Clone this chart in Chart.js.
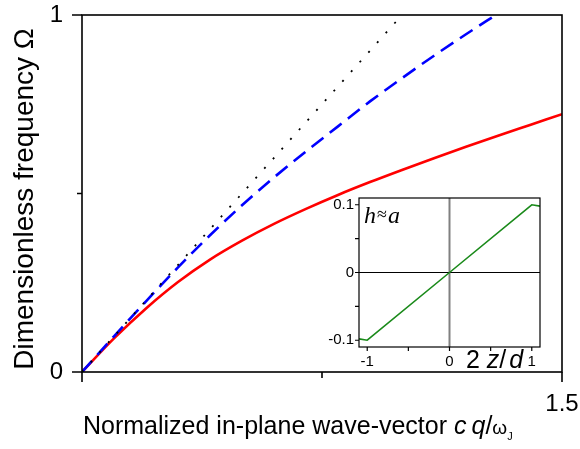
<!DOCTYPE html>
<html>
<head>
<meta charset="utf-8">
<script src="https://cdn.jsdelivr.net/npm/chart.js@4.4.1/dist/chart.umd.min.js"></script>
<style>
  html, body { margin: 0; padding: 0; background: #fff; }
  #wrap { position: relative; width: 580px; height: 449px; overflow: hidden; }
  #main { position: absolute; left: 0; top: 0; }
  #inset { position: absolute; left: 320px; top: 188px; }
</style>
</head>
<body>
<div id="wrap">
  <canvas id="main" width="580" height="449"></canvas>
  <canvas id="inset" width="240" height="192"></canvas>
</div>
<script>
// Normalized in-plane wave-vector cq/ωJ and dimensionless frequency Ω
const qSolid     = [0, 0.1, 0.2, 0.3, 0.4, 0.5, 0.6, 0.7, 0.8, 0.9, 1.0, 1.1, 1.2, 1.3, 1.4, 1.5];
const omegaSolid = [0, 0.094, 0.178, 0.252, 0.315, 0.368, 0.415, 0.457, 0.496, 0.532, 0.566, 0.599, 0.631, 0.662, 0.692, 0.722];

const qDashed     = [0, 0.1, 0.2, 0.3, 0.4, 0.5, 0.6, 0.7, 0.8, 0.9, 1.0, 1.1, 1.2, 1.3];
const omegaDashed = [0, 0.1, 0.198, 0.293, 0.383, 0.467, 0.545, 0.618, 0.688, 0.758, 0.823, 0.886, 0.946, 1.004];

const qLight     = [0, 1];
const omegaLight = [0, 1];

const xTicks      = [0, 0.75, 1.5];
const xTickLabels = ['', '', '1.5'];
const yTicks      = [0, 0.5, 1];
const yTickLabels = ['0', '', '1'];

// Inset: profile h across the layer, 2z/d
const zInset = [-1.1, -1, 0, 1, 1.1];
const hInset = [-0.098, -0.1, 0, 0.1, 0.098];
const zTicks      = [-1, -0.5, 0, 0.5, 1];
const zTickLabels = ['-1', '', '0', '', '1'];
const hTicks      = [-0.1, -0.05, 0, 0.05, 0.1];
const hTickLabels = ['-0.1', '', '0', '', '0.1'];

const SANS = "'Liberation Sans', Arial, Helvetica, sans-serif";
const SERIF = "'Liberation Serif', 'Times New Roman', serif";
Chart.defaults.font.family = SANS;
Chart.defaults.color = '#000';

const pts = (xs, ys) => xs.map((x, i) => ({ x: x, y: ys[i] }));

// Fixed axis thickness, and no extra room for overhanging labels
function fixSize(prop, size) {
  return s => {
    s[prop] = size;
    s.paddingTop = 0; s.paddingBottom = 0; s.paddingLeft = 0; s.paddingRight = 0;
  };
}

// Draws a run of text pieces with individual fonts and baseline offsets
function drawRuns(ctx, x, y, runs) {
  let cx = x;
  for (const r of runs) {
    ctx.font = r.font;
    ctx.fillText(r.text, cx, y + (r.dy || 0));
    cx += ctx.measureText(r.text).width + (r.gap || 0);
  }
}

// Frame, tick marks and axis titles of the main plot
const mainDecor = {
  id: 'mainDecor',
  afterDraw(chart) {
    const { ctx, chartArea: a, scales: { x, y } } = chart;
    ctx.save();
    ctx.strokeStyle = '#000';
    ctx.lineWidth = 1.6;
    ctx.strokeRect(a.left, a.top, a.right - a.left, a.bottom - a.top);
    ctx.beginPath();
    xTicks.forEach((v, i) => {
      const px = x.getPixelForValue(v);
      const len = xTickLabels[i] !== '' || i === 0 ? 10 : 6;
      ctx.moveTo(px, a.bottom);
      ctx.lineTo(px, a.bottom + len);
    });
    yTicks.forEach((v, i) => {
      const py = y.getPixelForValue(v);
      const len = yTickLabels[i] !== '' ? 10 : 5;
      ctx.moveTo(a.left, py);
      ctx.lineTo(a.left - len, py);
    });
    ctx.stroke();

    ctx.fillStyle = '#000';
    ctx.textAlign = 'left';
    ctx.textBaseline = 'alphabetic';
    drawRuns(ctx, 83, 434, [
      { text: 'Normalized in-plane wave-vector ', font: `25px ${SANS}` },
      { text: 'c', font: `italic 25px ${SANS}`, gap: 5 },
      { text: 'q', font: `italic 25px ${SANS}` },
      { text: '/', font: `25px ${SANS}` },
      { text: 'ω', font: `19px ${SANS}` },
      { text: 'J', font: `11px ${SANS}`, dy: 6 }
    ]);

    ctx.translate(33, 199);
    ctx.rotate(-Math.PI / 2);
    ctx.textAlign = 'center';
    ctx.font = `28px ${SANS}`;
    ctx.fillText('Dimensionless frequency Ω', 0, 0);
    ctx.restore();
  }
};

new Chart(document.getElementById('main'), {
  type: 'line',
  data: {
    datasets: [
      { data: pts(qLight, omegaLight), borderColor: '#000', borderWidth: 1.8,
        borderDash: [2, 11], pointRadius: 0, tension: 0 },
      { data: pts(qDashed, omegaDashed), borderColor: '#0000ff', borderWidth: 2.6,
        borderDash: [15, 8], pointRadius: 0, cubicInterpolationMode: 'monotone' },
      { data: pts(qSolid, omegaSolid), borderColor: '#ff0000', borderWidth: 2.6,
        pointRadius: 0, cubicInterpolationMode: 'monotone' }
    ]
  },
  options: {
    responsive: false,
    animation: false,
    events: [],
    layout: { padding: { left: 0, top: 15, right: 18, bottom: 0 } },
    plugins: { legend: { display: false }, tooltip: { enabled: false } },
    scales: {
      x: {
        type: 'linear', min: 0, max: 1.5,
        afterBuildTicks: s => { s.ticks = xTicks.map(v => ({ value: v })); },
        afterFit: fixSize('height', 77),
        grid: { display: false, tickLength: 10 },
        border: { display: false },
        ticks: { padding: 8, autoSkip: false, maxRotation: 0,
                 font: { size: 24 }, callback: (v, i) => xTickLabels[i] }
      },
      y: {
        type: 'linear', min: 0, max: 1,
        afterBuildTicks: s => { s.ticks = yTicks.map(v => ({ value: v })); },
        afterFit: fixSize('width', 82),
        grid: { display: false, tickLength: 10 },
        border: { display: false },
        ticks: { padding: 9, autoSkip: false,
                 font: { size: 24 }, callback: (v, i) => yTickLabels[i] }
      }
    }
  },
  plugins: [mainDecor]
});

// Box, zero lines and labels of the inset
const insetDecor = {
  id: 'insetDecor',
  beforeDatasetsDraw(chart) {
    const { ctx, chartArea: a, scales: { x, y } } = chart;
    ctx.save();
    const x0 = x.getPixelForValue(0);
    const y0 = y.getPixelForValue(0);
    ctx.strokeStyle = '#808080';
    ctx.lineWidth = 2;
    ctx.beginPath(); ctx.moveTo(x0, a.top); ctx.lineTo(x0, a.bottom); ctx.stroke();
    ctx.strokeStyle = '#000';
    ctx.lineWidth = 1.2;
    ctx.beginPath(); ctx.moveTo(a.left, y0); ctx.lineTo(a.right, y0); ctx.stroke();
    ctx.restore();
  },
  afterDraw(chart) {
    const { ctx, chartArea: a, scales: { x, y } } = chart;
    ctx.save();
    ctx.strokeStyle = '#000';
    ctx.lineWidth = 1.2;
    ctx.strokeRect(a.left, a.top, a.right - a.left, a.bottom - a.top);
    ctx.beginPath();
    zTicks.forEach(v => {
      const px = x.getPixelForValue(v);
      ctx.moveTo(px, a.bottom); ctx.lineTo(px, a.bottom + 4);
    });
    hTicks.forEach(v => {
      const py = y.getPixelForValue(v);
      ctx.moveTo(a.left, py); ctx.lineTo(a.left - 4, py);
    });
    ctx.stroke();

    ctx.fillStyle = '#000';
    ctx.textAlign = 'left';
    ctx.textBaseline = 'alphabetic';
    drawRuns(ctx, a.left + 5, a.top + 25, [
      { text: 'h', font: `italic 24px ${SERIF}`, gap: 1 },
      { text: '≈', font: `18px ${SERIF}`, gap: 1, dy: -3 },
      { text: 'a', font: `italic 24px ${SERIF}` }
    ]);
    drawRuns(ctx, 146, 180, [
      { text: '2 ', font: `25px ${SANS}`, gap: 0 },
      { text: 'z', font: `italic 25px ${SANS}` },
      { text: '/', font: `25px ${SANS}`, gap: 3 },
      { text: 'd', font: `italic 25px ${SANS}` }
    ]);
    ctx.restore();
  }
};

new Chart(document.getElementById('inset'), {
  type: 'line',
  data: {
    datasets: [
      { data: pts(zInset, hInset), borderColor: '#1a8a1a', borderWidth: 1.6,
        pointRadius: 0, tension: 0 }
    ]
  },
  options: {
    responsive: false,
    animation: false,
    events: [],
    layout: { padding: { left: 0, top: 10, right: 20, bottom: 0 } },
    plugins: { legend: { display: false }, tooltip: { enabled: false } },
    scales: {
      x: {
        type: 'linear', min: -1.1, max: 1.1,
        afterBuildTicks: s => { s.ticks = zTicks.map(v => ({ value: v })); },
        afterFit: fixSize('height', 33),
        grid: { display: false, tickLength: 4 },
        border: { display: false },
        ticks: { padding: 2, autoSkip: false, maxRotation: 0,
                 font: { size: 15 }, callback: (v, i) => zTickLabels[i] }
      },
      y: {
        type: 'linear', min: -0.11, max: 0.11,
        afterBuildTicks: s => { s.ticks = hTicks.map(v => ({ value: v })); },
        afterFit: fixSize('width', 39),
        grid: { display: false, tickLength: 4 },
        border: { display: false },
        ticks: { padding: 1, autoSkip: false,
                 font: { size: 15 }, callback: (v, i) => hTickLabels[i] }
      }
    }
  },
  plugins: [insetDecor]
});
</script>
</body>
</html>
